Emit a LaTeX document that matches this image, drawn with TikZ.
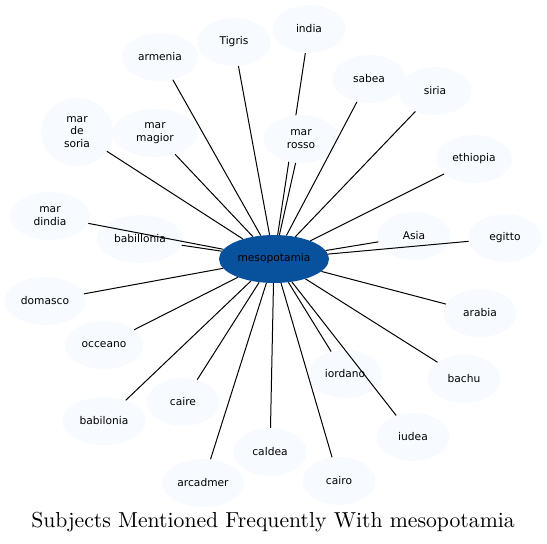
\documentclass[tikz,border=0pt]{standalone}
\usepackage{fontspec}
\usepackage{graphicx}
\newfontfamily\labelfont{DejaVu Sans}
\usetikzlibrary{shapes.geometric, backgrounds}
\definecolor{hubblue}{HTML}{08519C}
\definecolor{leafblue}{HTML}{F7FBFF}

\begin{document}
\begin{tikzpicture}[x=1pt, y=-1pt,
  subj/.style={ellipse, fill=leafblue, inner sep=0pt, minimum width=73pt,
    minimum height=48pt, align=center,
    font=\labelfont\fontsize{10.67}{12.5}\selectfont},
  hub/.style={subj, fill=hubblue, minimum width=110pt},
  link/.style={black, line width=1pt}]
  \useasboundingbox (0,0) rectangle (547,544);

  \node[hub] (meso) at (274,259) {mesopotamia};

  \node[subj] (india) at (309,29) {india};
  \node[subj] (tigris) at (234,42) {Tigris};
  \node[subj, minimum width=76pt] (armenia) at (160,57) {armenia};
  \node[subj] (sabea) at (369,79) {sabea};
  \node[subj] (siria) at (435,91) {siria};
  \node[subj, minimum width=75pt] (marrosso) at (301,139) {mar\\rosso};
  \node[subj, minimum width=85pt] (marmagior) at (155,133) {mar\\magior};
  \node[subj, minimum width=72pt, minimum height=68pt] (marsoria) at (77,132) {mar\\de\\soria};
  \node[subj, minimum width=76pt] (ethiopia) at (474,159) {ethiopia};
  \node[subj, minimum width=80pt] (mardindia) at (50,216) {mar\\dindia};
  \node[subj, minimum width=86pt] (babillonia) at (140,239) {babillonia};
  \node[subj] (asia) at (414,236) {Asia};
  \node[subj] (egitto) at (505,238) {egitto};
  \node[subj, minimum width=81pt] (domasco) at (45,301) {domasco};
  \node[subj] (arabia) at (480,313) {arabia};
  \node[subj, minimum width=78pt] (occeano) at (104,345) {occeano};
  \node[subj, minimum width=74pt] (iordano) at (345,374) {iordano};
  \node[subj] (bachu) at (464,379) {bachu};
  \node[subj] (caire) at (183,402) {caire};
  \node[subj, minimum width=84pt] (babilonia) at (104,421) {babilonia};
  \node[subj] (iudea) at (413,437) {iudea};
  \node[subj] (caldea) at (270,452) {caldea};
  \node[subj, minimum width=82pt] (arcadmer) at (203,483) {arcadmer};
  \node[subj] (cairo) at (339,481) {cairo};

  % india runs behind mar rosso
  \begin{scope}[on background layer]
    \draw[link] (india) -- (meso);
  \end{scope}

  \foreach \s in {tigris, armenia, sabea, siria, marrosso, marmagior, marsoria,
      ethiopia, mardindia, babillonia, asia, egitto, domasco, arabia, occeano,
      iordano, bachu, caire, babilonia, iudea, caldea, arcadmer, cairo}
    \draw[link] (\s) -- (meso);

  \node[inner sep=0pt] (title) at (273,522)
    {\scalebox{2.17}{Subjects Mentioned Frequently With mesopotamia}};
\end{tikzpicture}
\end{document}
